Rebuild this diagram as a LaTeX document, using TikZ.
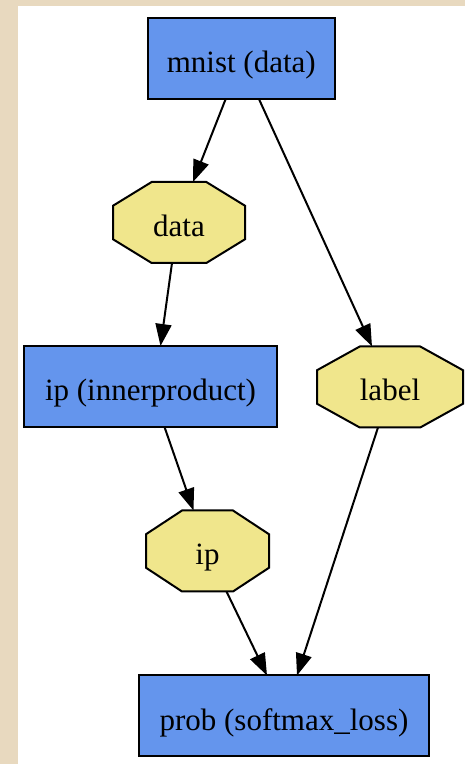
\documentclass[tikz,border=0pt]{standalone}
\usepackage{fontspec}
\setmainfont{Liberation Serif}
\usetikzlibrary{arrows.meta,calc,backgrounds}
\definecolor{layerblue}{HTML}{6495ED}
\definecolor{blobyellow}{HTML}{F0E68C}
\definecolor{pagebeige}{HTML}{E8D9BF}
\begin{document}
\begin{tikzpicture}[x=1pt, y=1pt,
  every node/.style={font=\fontsize{31}{37}\selectfont, outer sep=0pt, inner sep=0pt,
    text height=28pt, text depth=0pt, minimum height=81pt},
  layer/.style={draw, fill=layerblue, line width=2pt},
  blob/.style={rectangle},
  edge/.style={line width=2pt, -{Triangle[length=22pt,width=16pt]}}]
  \useasboundingbox (0,0) rectangle (465,764);
  % Layers (boxes) and blobs (octagons)
  \node[layer, minimum width=187pt] (mnist) at (241.3,705.8) {mnist (data)};
  \node[blob, minimum width=132pt] (datablob) at (179,541.5) {data};
  \node[layer, minimum width=253pt] (iplayer) at (150.5,377.5) {ip (innerproduct)};
  \node[blob, minimum width=146pt] (labelblob) at (390,377) {label};
  \node[blob, minimum width=123pt] (ipblob) at (207.5,213) {ip};
  \node[layer, minimum width=290pt] (prob) at (284,48) {prob (softmax\_loss)};
  % Edges
  \draw[edge] ([xshift=-15.5pt]mnist.south) -- ([xshift=14pt]datablob.north);
  \draw[edge] ([xshift=17.5pt]mnist.south) -- ([xshift=-18pt]labelblob.north);
  \draw[edge] ([xshift=-7pt]datablob.south) -- ([xshift=10pt]iplayer.north);
  \draw[edge] ([xshift=14pt]iplayer.south) -- ([xshift=-14pt]ipblob.north);
  \draw[edge] ([xshift=19pt]ipblob.south) -- ([xshift=-17pt]prob.north);
  \draw[edge] ([xshift=-12pt]labelblob.south) -- ([xshift=13pt]prob.north);
  % Page and octagon outlines behind the nodes
  \begin{scope}[on background layer]
    \fill[pagebeige] (0,0) rectangle (465,764);
    \fill[white] (17.5,0) rectangle (465,758.3);
    \foreach \b in {datablob,labelblob,ipblob}
      \filldraw[fill=blobyellow, line width=2pt]
        ($(\b.north west)!.293!(\b.north east)$) -- ($(\b.north east)!.293!(\b.north west)$)
        -- ($(\b.north east)!.293!(\b.south east)$) -- ($(\b.south east)!.293!(\b.north east)$)
        -- ($(\b.south east)!.293!(\b.south west)$) -- ($(\b.south west)!.293!(\b.south east)$)
        -- ($(\b.south west)!.293!(\b.north west)$) -- ($(\b.north west)!.293!(\b.south west)$)
        -- cycle;
  \end{scope}
\end{tikzpicture}
\end{document}
